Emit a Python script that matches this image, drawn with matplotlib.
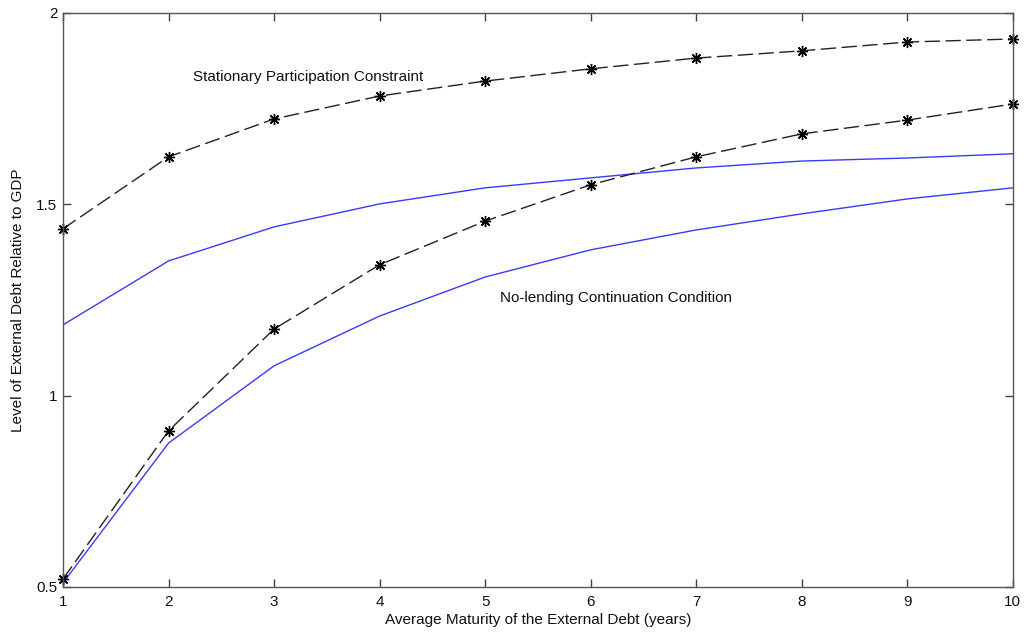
import matplotlib
matplotlib.use("Agg")
import matplotlib.pyplot as plt

plt.rcParams['font.family'] = ['Liberation Sans', 'DejaVu Sans']

maturity = [1, 2, 3, 4, 5, 6, 7, 8, 9, 10]
participation_upper = [1.436, 1.624, 1.723, 1.783, 1.822, 1.854, 1.882, 1.901, 1.924, 1.932]
participation_lower = [0.521, 0.908, 1.174, 1.342, 1.456, 1.551, 1.624, 1.684, 1.720, 1.762]
nolending_upper = [1.185, 1.352, 1.441, 1.501, 1.543, 1.569, 1.595, 1.613, 1.621, 1.632]
nolending_lower = [0.511, 0.876, 1.078, 1.208, 1.310, 1.381, 1.433, 1.475, 1.514, 1.543]

xticks = [1, 2, 3, 4, 5, 6, 7, 8, 9, 10]
yticks = [0.5, 1, 1.5, 2]
ytick_labels = ['0.5', '1', '1.5', '2']

fig = plt.figure(figsize=(10.25, 6.35), dpi=100)
ax = fig.add_axes([0.0615, 0.0756, 0.9265, 0.904])

blue = '#3a3aff'
dark = '#222222'
ax.plot(maturity, nolending_upper, color=blue, lw=1.0)
ax.plot(maturity, nolending_lower, color=blue, lw=1.0)
for ys in (participation_upper, participation_lower):
    ax.plot(maturity, ys, color=dark, lw=1.0, dashes=(11, 4),
            marker=(8, 2, 0), markersize=8, markerfacecolor='black',
            markeredgecolor='black', markeredgewidth=1.0, clip_on=False)

ax.set_xlim(1, 10)
ax.set_ylim(0.5, 2)
ax.set_xticks(xticks)
ax.set_yticks(yticks)
ax.set_yticklabels(ytick_labels)
ax.tick_params(direction='in', length=6, width=1, color='#444444',
               top=True, right=True, labelsize=11, labelcolor='#111111')
ax.tick_params(axis='x', pad=6)
ax.tick_params(axis='y', pad=4)
for s in ax.spines.values():
    s.set_color('#555555')
    s.set_linewidth(1.0)

ax.set_xlabel('Average Maturity of the External Debt (years)', fontsize=11, color='#111111', labelpad=3)
ax.set_ylabel('Level of External Debt Relative to GDP', fontsize=11, color='#111111', labelpad=8)

ax.text(2.23, 1.833, 'Stationary Participation Constraint', fontsize=11, color='#111111', va='center')
ax.text(5.14, 1.255, 'No-lending Continuation Condition', fontsize=11, color='#111111', va='center')

fig.savefig('out.png', dpi=100)
